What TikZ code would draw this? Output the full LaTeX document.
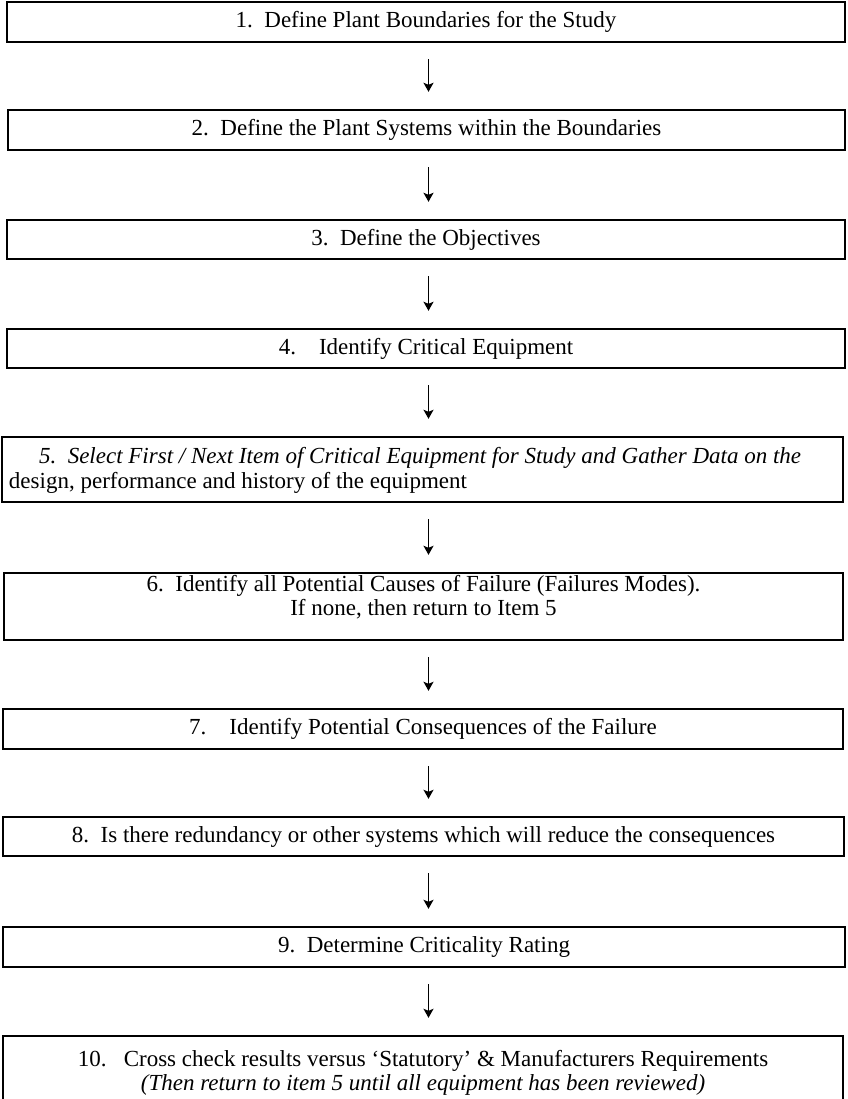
\documentclass[tikz,border=0pt]{standalone}
\usepackage{fontspec}
\setmainfont{Liberation Serif}
\usetikzlibrary{arrows.meta}
\begin{document}
\begin{tikzpicture}[x=1pt,y=-1pt,
  box/.style={draw=black, line width=2.4pt, inner sep=0pt, align=center,
    font=\fontsize{23}{24.5}\selectfont},
  txt/.style={inner sep=0pt, font=\fontsize{23}{24.5}\selectfont},
  arr/.style={line width=1.5pt, -{Stealth[length=9pt,width=10pt,inset=2pt]},
    shorten <=16pt, shorten >=17pt}]
\useasboundingbox (0,0) rectangle (847,1099);
\coordinate (ax) at (428.5,0);
% boxes: left, top, right, bottom
\node[box, minimum width=838pt, minimum height=40pt] (b1) at (426,22) {1.\enspace Define Plant Boundaries for the Study};
\node[box, minimum width=837pt, minimum height=40pt] (b2) at (426.5,130) {2.\enspace Define the Plant Systems within the Boundaries};
\node[box, minimum width=838pt, minimum height=39pt] (b3) at (426,239.5) {3.\enspace Define the Objectives};
\node[box, minimum width=838pt, minimum height=39pt] (b4) at (426,348.5) {4.\quad Identify Critical Equipment};
\node[box, minimum width=841pt, minimum height=65pt] (b5) at (422.5,469.5) {};
\node[txt, anchor=base west] (t5a) at ([xshift=38pt,yshift=-28pt]b5.north west) {\textit{5.\enspace Select First / Next Item of Critical Equipment for Study and Gather Data on the}};
\node[txt, anchor=base west] (t5b) at ([xshift=8pt,yshift=-53pt]b5.north west) {design, performance and history of the equipment};
\node[box, minimum width=839pt, minimum height=67pt] (b6) at (423.5,606.5) {6.\enspace Identify all Potential Causes of Failure (Failures Modes).\\If none, then return to Item 5\\[-2pt]};
\node[box, minimum width=840pt, minimum height=40pt] (b7) at (423,729) {7.\quad Identify Potential Consequences of the Failure};
\node[box, minimum width=841pt, minimum height=39pt] (b8) at (423.5,836.5) {8.\enspace Is there redundancy or other systems which will reduce the consequences};
\node[box, minimum width=842pt, minimum height=40pt] (b9) at (424,947) {9.\enspace Determine Criticality Rating};
\node[box, minimum width=840pt, minimum height=74pt] (b10) at (423,1073) {10.\enspace\ Cross check results versus `Statutory' \& Manufacturers Requirements\\\textit{(Then return to item 5 until all equipment has been reviewed)}};
% arrows
\draw[arr] (b1.south -| ax) -- (b2.north -| ax);
\draw[arr] (b2.south -| ax) -- (b3.north -| ax);
\draw[arr] (b3.south -| ax) -- (b4.north -| ax);
\draw[arr] (b4.south -| ax) -- (b5.north -| ax);
\draw[arr] (b5.south -| ax) -- (b6.north -| ax);
\draw[arr] (b6.south -| ax) -- (b7.north -| ax);
\draw[arr] (b7.south -| ax) -- (b8.north -| ax);
\draw[arr] (b8.south -| ax) -- (b9.north -| ax);
\draw[arr] (b9.south -| ax) -- (b10.north -| ax);
\end{tikzpicture}
\end{document}
